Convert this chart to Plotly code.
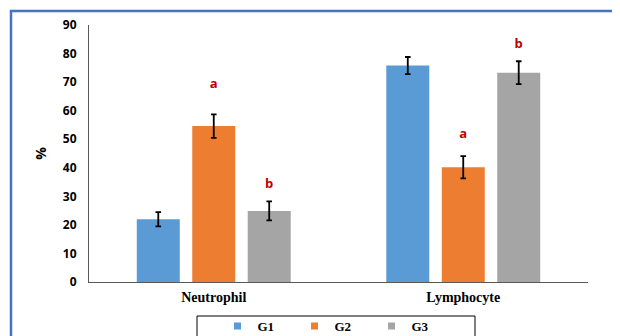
import plotly.graph_objects as go

categories = ["Neutrophil", "Lymphocyte"]
groups = ["G1", "G2", "G3"]
means = {"G1": [22.0, 75.8], "G2": [54.6, 40.2], "G3": [24.9, 73.3]}
errors = {"G1": [2.5, 3.0], "G2": [4.1, 3.9], "G3": [3.3, 4.0]}
letters = {"G1": ["", ""], "G2": ["a", "a"], "G3": ["b", "b"]}
letter_y = {"G1": [0, 0], "G2": [69, 51.5], "G3": [34.2, 83]}
colors = {"G1": "#5b9bd5", "G2": "#ed7d31", "G3": "#a5a5a5"}
yticks = [0, 10, 20, 30, 40, 50, 60, 70, 80, 90]

# page body has an 8px margin: figure is drawn 8px right/down
OFF = 8
W, H = 620 - OFF, 336 - OFF
L, R, T, B = 89 - OFF, 32, 25 - OFF, 54
pw, ph = W - L - R, H - T - B

fig = go.Figure()
for g in groups:
    fig.add_trace(go.Bar(
        x=categories, y=means[g], name=g, offsetgroup=g, showlegend=False,
        legendgroup=g,
        marker=dict(color=colors[g], line=dict(width=0)),
        error_y=dict(type="data", array=errors[g], color="#000000",
                     thickness=1.8, width=2.8),
    ))
for g in groups:
    fig.add_trace(go.Scatter(
        x=[None], y=[None], mode="markers", name=g, legendgroup=g,
        marker=dict(symbol="square", size=7, color=colors[g]),
    ))
for g in groups:
    fig.add_trace(go.Scatter(
        x=categories, y=letter_y[g], text=letters[g], mode="text",
        offsetgroup=g, showlegend=False, hoverinfo="skip",
        textfont=dict(family="Open Sans", size=13, color="#c00000", weight="bold"),
    ))

def px_x(p):  # screen px -> paper
    return (p - OFF - L) / pw

def px_y(p):
    return (H - B - (p - OFF)) / ph

fig.update_layout(
    width=W, height=H,
    margin=dict(l=L, r=R, t=T, b=B, autoexpand=False),
    paper_bgcolor="white", plot_bgcolor="white",
    barmode="group", bargap=0.333, bargroupgap=0.225,
    scattermode="group", scattergap=0.333,
    showlegend=True,
    legend=dict(orientation="h", x=px_x(333), xanchor="center",
                y=px_y(311), yanchor="top",
                font=dict(family="Liberation Serif", size=13, color="#000", weight="bold"),
                entrywidth=32, itemwidth=30, bgcolor="rgba(0,0,0,0)", borderwidth=0,
                traceorder="normal"),
    xaxis=dict(showline=True, linecolor="#595959", linewidth=1.2, ticks="",
               tickfont=dict(family="Liberation Serif", size=14, color="#000", weight="bold"),
               showgrid=False, zeroline=False, ticklabelstandoff=2),
    yaxis=dict(range=[0, 90], tickvals=yticks, showline=True, linecolor="#595959",
               linewidth=1.2, showgrid=False, zeroline=False, ticks="",
               ticklabelstandoff=9,
               tickfont=dict(family="Open Sans", size=12, color="#000", weight="bold"),
               title=dict(text="%", font=dict(family="Open Sans", size=14, color="#000", weight="bold"),
                          standoff=12)),
    shapes=[
        dict(type="rect", xref="paper", yref="paper",
             x0=px_x(11), x1=px_x(618), y0=px_y(345), y1=px_y(11),
             line=dict(color="#4472c4", width=2.5), fillcolor="rgba(0,0,0,0)", layer="below"),
        dict(type="rect", xref="paper", yref="paper",
             x0=px_x(197), x1=px_x(475), y0=px_y(345), y1=px_y(316),
             line=dict(color="#000000", width=1), fillcolor="rgba(0,0,0,0)"),
    ],
)

fig.write_html("out.html")
